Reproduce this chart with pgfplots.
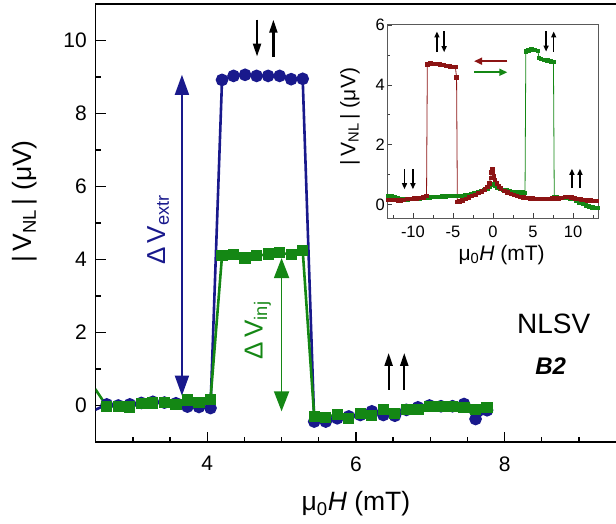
\documentclass[border=0pt]{standalone}
\usepackage{fontspec}
\setmainfont{Liberation Sans}
\usepackage{pgfplots}
\pgfplotsset{compat=1.18}
\usetikzlibrary{arrows.meta}
\definecolor{cblue}{RGB}{25,25,140}
\definecolor{cgreen}{RGB}{20,135,20}
\definecolor{cred}{RGB}{140,20,20}
\begin{document}
\begin{tikzpicture}
\begin{axis}[
  at={(0pt,0pt)}, anchor=south west,
  scale only axis, width=527.9pt, height=438pt,
  xmin=2.5, xmax=9.6, ymin=-1, ymax=11,
  xtick={4,6,8}, minor xtick={2.5,3,3.5,4.5,5,5.5,6.5,7,7.5,8.5,9,9.5},
  ytick={0,2,4,6,8,10}, minor ytick={1,3,5,7,9},
  xtick pos=bottom, ytick pos=left, tick align=inside,
  major tick length=10pt, minor tick length=5pt,
  axis line style={line width=1.5pt},
  every tick/.style={line width=1.3pt, black},
  /pgf/number format/assume math mode=true,
  ticklabel style={font=\fontsize{21}{21}\selectfont},
  xticklabel style={yshift=-11pt},
  yticklabel style={xshift=-5.4pt},
  xlabel={μ\textsubscript{0}\textit{H} (mT)},
  ylabel={|\,V\textsubscript{NL}\,| (μV)},
  label style={font=\fontsize{26.5}{26.5}\selectfont},
  xlabel style={at={(axis description cs:0.493,0)}, anchor=base, yshift=-68.7pt},
  ylabel style={at={(axis description cs:-0.134,0.409)}, anchor=west, inner sep=0pt},
]
\addplot[cblue, line width=2.6pt, mark=*, mark size=5pt, mark options={solid}] coordinates {
(2.494,-0.12) (2.649,0.03) (2.804,0.0) (2.959,0.03) (3.114,0.07) (3.269,0.1) (3.424,0.08) (3.579,0.06) (3.734,-0.03) (3.889,-0.04) (4.044,-0.07)
(4.199,8.92) (4.354,9.03) (4.509,9.06) (4.664,9.03) (4.819,9.03) (4.974,9.03) (5.129,8.94) (5.284,8.95)
(5.439,-0.44) (5.594,-0.44) (5.749,-0.35) (5.904,-0.30) (6.059,-0.26) (6.214,-0.16) (6.369,-0.26) (6.524,-0.28) (6.679,-0.12) (6.834,-0.05) (6.989,0.0) (7.144,-0.02) (7.299,-0.02) (7.454,0.04) (7.609,-0.37) (7.764,-0.13)
};
\addplot[cgreen, line width=2.6pt, mark=square*, mark size=4.3pt, mark options={solid}] coordinates {
(2.494,0.45) (2.649,-0.02) (2.804,-0.03) (2.959,-0.04) (3.114,0.06) (3.269,0.07) (3.424,0.09) (3.579,0.02) (3.734,0.15) (3.889,0.09) (4.044,0.17)
(4.199,4.10) (4.354,4.13) (4.509,4.04) (4.664,4.10) (4.819,4.15) (4.974,4.19) (5.129,4.13) (5.284,4.25)
(5.439,-0.30) (5.594,-0.32) (5.749,-0.24) (5.904,-0.35) (6.059,-0.23) (6.214,-0.28) (6.369,-0.12) (6.524,-0.21) (6.679,-0.10) (6.834,-0.10) (6.989,-0.03) (7.144,-0.03) (7.299,-0.03) (7.454,-0.05) (7.609,-0.12) (7.764,-0.05)
};
\draw[cblue, line width=1.8pt, {Triangle[length=20pt,width=14pt]}-{Triangle[length=20pt,width=14pt]}] (axis cs:3.66,9.06) -- (axis cs:3.66,0.27);
\draw[cgreen, line width=1.8pt, {Triangle[length=20pt,width=15pt]}-{Triangle[length=20pt,width=15pt]}] (axis cs:5.0,4.04) -- (axis cs:5.0,-0.16);
\draw[black, line width=2.2pt, -{Triangle[length=13pt,width=8pt]}] (axis cs:4.67,10.57) -- (axis cs:4.67,9.56);
\draw[black, line width=2.2pt, -{Triangle[length=13pt,width=8pt]}] (axis cs:4.89,9.56) -- (axis cs:4.89,10.57);
\draw[black, line width=2.2pt, -{Triangle[length=13pt,width=8pt]}] (axis cs:6.44,0.43) -- (axis cs:6.44,1.44);
\draw[black, line width=2.2pt, -{Triangle[length=13pt,width=8pt]}] (axis cs:6.65,0.43) -- (axis cs:6.65,1.44);
\node[rotate=90, text=cblue, font=\fontsize{26}{26}\selectfont] at (axis cs:3.34,4.81) {Δ\,V\textsubscript{extr}};
\node[rotate=90, text=cgreen, font=\fontsize{26}{26}\selectfont] at (axis cs:4.68,2.06) {Δ\,V\textsubscript{inj}};
\node[anchor=base, font=\fontsize{28}{28}\selectfont] at (axis cs:8.66,1.96) {NLSV};
\node[anchor=base, font=\fontsize{24}{24}\selectfont] at (axis cs:8.62,0.84) {\textbf{\textit{B2}}};
\end{axis}
\begin{axis}[
  at={(291.6pt,223.7pt)}, anchor=south west,
  scale only axis, width=211.4pt, height=194.3pt,
  xmin=-13.2, xmax=13.2, ymin=-0.45, ymax=6.03,
  xtick={-10,-5,0,5,10}, minor xtick={-12.5,-7.5,-2.5,2.5,7.5,12.5},
  ytick={0,2,4,6}, minor ytick={1,3,5},
  xtick pos=bottom, ytick pos=left, tick align=inside,
  major tick length=5pt, minor tick length=3pt,
  axis line style={line width=0.8pt, black!65},
  every tick/.style={line width=0.7pt, black!75},
  /pgf/number format/assume math mode=true,
  ticklabel style={font=\fontsize{16.5}{16.5}\selectfont},
  xticklabel style={yshift=-4.4pt},
  yticklabel style={xshift=1pt},
  xlabel={μ\textsubscript{0}\textit{H} (mT)},
  ylabel={|\,V\textsubscript{NL}\,| (μV)},
  label style={font=\fontsize{21}{21}\selectfont},
  xlabel style={at={(axis description cs:0.541,0)}, anchor=base, yshift=-42.4pt},
  ylabel style={at={(axis description cs:-0.176,0.524)}, anchor=center},
]
\addplot[cgreen, line width=0.8pt, mark=square*, mark size=1.7pt, mark options={solid}] coordinates {
(-13.1,0.3) (-12.7,0.28) (-12.3,0.25) (-11.9,0.22) (-11.5,0.2) (-11.1,0.18) (-10.7,0.18) (-10.3,0.19) (-9.9,0.2) (-9.5,0.21) (-9.1,0.22) (-8.7,0.23) (-8.3,0.24) (-7.9,0.25) (-7.5,0.26) (-7.1,0.27) (-6.7,0.27) (-6.3,0.28) (-5.9,0.28) (-5.5,0.29) (-5.1,0.3) (-4.7,0.3) (-4.3,0.29) (-3.9,0.3) (-3.5,0.32) (-3.1,0.34) (-2.7,0.36) (-2.3,0.38) (-1.9,0.41) (-1.5,0.45) (-1.1,0.5) (-0.7,0.55) (-0.4,0.6) (-0.15,0.66) (0.0,0.7) (0.2,0.64) (0.5,0.58) (0.9,0.54) (1.3,0.5) (1.7,0.48) (2.1,0.46) (2.5,0.44) (2.9,0.43) (3.3,0.42) (3.7,0.41) (4.0,0.4)
(4.1,5.12) (4.4,5.15) (4.8,5.18) (5.2,5.17) (5.6,5.13) (5.75,4.9) (6.0,4.86) (6.4,4.83) (6.8,4.81) (7.2,4.78) (7.55,4.76)
(7.65,0.26) (8.0,0.25) (8.4,0.24) (8.8,0.24) (9.2,0.23) (9.6,0.22) (10.0,0.2) (10.4,0.14) (10.8,0.08) (11.2,0.03) (11.6,-0.02) (12.0,-0.05) (12.4,-0.08) (12.8,-0.1) (13.1,-0.1)
};
\addplot[cred, line width=0.8pt, mark=square*, mark size=1.7pt, mark options={solid}] coordinates {
(13.0,0.13) (12.6,0.14) (12.2,0.15) (11.8,0.15) (11.4,0.16) (11.0,0.18) (10.6,0.2) (10.2,0.22) (9.8,0.25) (9.4,0.27) (9.0,0.26) (8.6,0.24) (8.2,0.22) (7.8,0.21) (7.4,0.21) (7.0,0.2) (6.6,0.19) (6.2,0.2) (5.8,0.19) (5.4,0.2) (5.0,0.21) (4.6,0.22) (4.2,0.23) (3.8,0.25) (3.4,0.27) (3.0,0.3) (2.6,0.33) (2.2,0.37) (1.8,0.41) (1.4,0.47) (1.0,0.55) (0.7,0.62) (0.45,0.72) (0.25,0.84) (0.1,0.95) (0.0,1.1) (-0.1,1.2) (-0.2,1.08) (-0.3,0.9) (-0.45,0.72) (-0.7,0.6) (-1.0,0.52) (-1.4,0.45) (-1.8,0.39) (-2.2,0.34) (-2.6,0.3) (-3.0,0.25) (-3.4,0.2) (-3.8,0.15) (-4.1,0.12) (-4.45,0.09)
(-4.55,4.25) (-4.7,4.6) (-5.0,4.6) (-5.4,4.62) (-5.8,4.64) (-6.2,4.67) (-6.6,4.68) (-7.0,4.7) (-7.4,4.7) (-7.8,4.71) (-8.2,4.68)
(-8.3,0.29) (-8.7,0.25) (-9.1,0.23) (-9.5,0.22) (-9.9,0.21) (-10.3,0.2) (-10.7,0.19) (-11.1,0.17) (-11.5,0.15) (-11.9,0.15) (-12.3,0.16) (-12.7,0.17) (-13.1,0.17)
};
\draw[cred, line width=1.6pt, -{Triangle[length=8pt,width=7pt]}] (axis cs:1.79,4.79) -- (axis cs:-2.36,4.79);
\draw[cgreen, line width=1.6pt, -{Triangle[length=8pt,width=7pt]}] (axis cs:-2.36,4.42) -- (axis cs:1.79,4.42);
\draw[black, line width=1.4pt, -{Triangle[length=6pt,width=5pt]}] (axis cs:-7.0,5.09) -- (axis cs:-7.0,5.78);
\draw[black, line width=1.4pt, -{Triangle[length=6pt,width=5pt]}] (axis cs:-6.1,5.78) -- (axis cs:-6.1,5.09);
\draw[black, line width=1.4pt, -{Triangle[length=6pt,width=5pt]}] (axis cs:6.63,5.78) -- (axis cs:6.63,5.11);
\draw[black, line width=1.4pt, -{Triangle[length=6pt,width=5pt]}] (axis cs:7.58,5.11) -- (axis cs:7.58,5.78);
\draw[black, line width=1.4pt, -{Triangle[length=6pt,width=5pt]}] (axis cs:-11.05,1.19) -- (axis cs:-11.05,0.52);
\draw[black, line width=1.4pt, -{Triangle[length=6pt,width=5pt]}] (axis cs:-10.0,1.19) -- (axis cs:-10.0,0.52);
\draw[black, line width=1.4pt, -{Triangle[length=6pt,width=5pt]}] (axis cs:9.86,0.56) -- (axis cs:9.86,1.2);
\draw[black, line width=1.4pt, -{Triangle[length=6pt,width=5pt]}] (axis cs:10.86,0.56) -- (axis cs:10.86,1.2);
\end{axis}
\pgfresetboundingbox
\useasboundingbox (-95.7pt,-82pt) rectangle (520.3pt,442pt);
\end{tikzpicture}
\end{document}
